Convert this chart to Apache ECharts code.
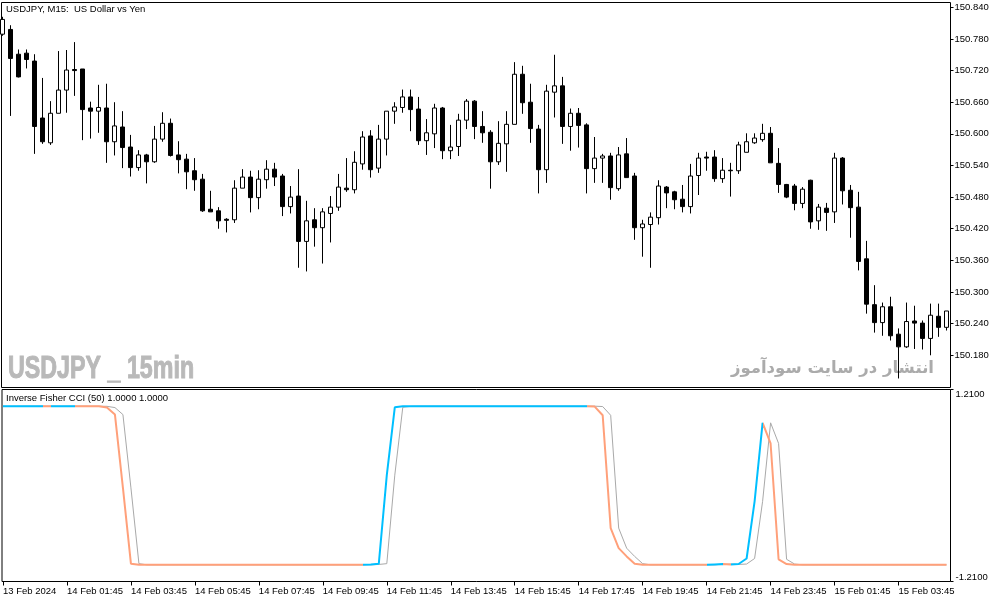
<!DOCTYPE html>
<html><head><meta charset="utf-8">
<script src="https://cdn.jsdelivr.net/npm/echarts@6/dist/echarts.min.js"></script>
<style>html,body{margin:0;padding:0;background:#fff}#c{width:1003px;height:603px}</style>
</head><body><div id="c"></div>
<script>
// ---- data ----
const timeLabels = ['13 Feb 2024','14 Feb 01:45','14 Feb 03:45','14 Feb 05:45','14 Feb 07:45','14 Feb 09:45','14 Feb 11:45','14 Feb 13:45','14 Feb 15:45','14 Feb 17:45','14 Feb 19:45','14 Feb 21:45','14 Feb 23:45','15 Feb 01:45','15 Feb 03:45'];
const labelBars = [0,8,16,24,32,40,48,56,64,72,80,88,96,104,112];
const priceTicks = [150.180,150.240,150.300,150.360,150.420,150.480,150.540,150.600,150.660,150.720,150.780,150.840];
const indTicks = [-1.21, 1.21];

const open = [
150.789,150.798,150.751,150.753,150.738,150.630,150.583,150.639,150.683,150.722,
150.723,150.649,150.643,150.649,150.585,150.613,150.575,150.536,150.560,150.547,
150.590,150.620,150.560,150.552,150.530,150.514,150.457,150.454,150.438,150.437,
150.497,150.518,150.479,150.513,150.533,150.520,150.462,150.482,150.396,150.437,
150.422,150.449,150.461,150.497,150.494,150.543,150.596,150.535,150.590,150.643,
150.650,150.670,150.647,150.587,150.600,150.649,150.568,150.576,150.626,150.662,
150.614,150.603,150.547,150.581,150.618,150.713,150.660,150.609,150.532,150.679,
150.691,150.614,150.639,150.617,150.534,150.554,150.558,150.496,150.562,150.520,
150.422,150.428,150.441,150.499,150.490,150.476,150.462,150.521,150.556,150.556,
150.515,150.531,150.530,150.565,150.583,150.589,150.601,150.544,150.504,150.501,
150.468,150.512,150.435,150.459,150.452,150.554,150.493,150.461,150.363,150.276,
150.242,150.272,150.220,150.196,150.245,150.241,150.212,150.254,150.233];
const high = [
150.822,150.806,150.760,150.760,150.751,150.706,150.662,150.757,150.759,150.774,
150.723,150.661,150.693,150.695,150.660,150.643,150.598,150.569,150.562,150.615,
150.641,150.629,150.586,150.562,150.554,150.524,150.492,150.461,150.440,150.512,
150.533,150.530,150.531,150.550,150.545,150.524,150.501,150.533,150.473,150.459,
150.459,150.482,150.524,150.554,150.567,150.605,150.607,150.617,150.643,150.660,
150.684,150.684,150.670,150.628,150.657,150.651,150.617,150.638,150.666,150.664,
150.643,150.607,150.624,150.643,150.736,150.729,150.695,150.617,150.693,150.750,
150.708,150.648,150.649,150.620,150.594,150.562,150.564,150.575,150.592,150.526,
150.437,150.451,150.512,150.501,150.492,150.503,150.543,150.564,150.566,150.569,
150.554,150.545,150.585,150.601,150.601,150.619,150.613,150.573,150.505,150.505,
150.499,150.513,150.467,150.469,150.564,150.556,150.503,150.490,150.397,150.313,
150.280,150.291,150.231,150.280,150.274,150.246,150.278,150.278,150.264];
const low = [
150.786,150.634,150.707,150.724,150.562,150.581,150.579,150.639,150.640,150.672,
150.588,150.591,150.602,150.545,150.559,150.535,150.519,150.530,150.506,150.545,
150.585,150.557,150.525,150.495,150.492,150.452,150.452,150.420,150.413,150.431,
150.497,150.451,150.457,150.496,150.501,150.444,150.449,150.346,150.339,150.386,
150.354,150.394,150.454,150.490,150.487,150.532,150.517,150.526,150.559,150.619,
150.640,150.605,150.579,150.560,150.573,150.552,150.552,150.558,150.609,150.590,
150.583,150.496,150.541,150.528,150.618,150.638,150.583,150.487,150.507,150.631,
150.581,150.568,150.574,150.487,150.507,150.507,150.475,150.492,150.517,150.399,
150.367,150.346,150.428,150.459,150.457,150.451,150.449,150.484,150.530,150.509,
150.507,150.481,150.524,150.565,150.581,150.585,150.545,150.488,150.478,150.455,
150.459,150.420,150.418,150.416,150.431,150.466,150.403,150.341,150.259,150.223,
150.217,150.208,150.136,150.194,150.192,150.191,150.180,150.215,150.227];
const close = [
150.817,150.743,150.708,150.741,150.614,150.585,150.639,150.683,150.721,150.720,
150.646,150.643,150.650,150.585,150.615,150.574,150.536,150.560,150.547,150.590,
150.620,150.559,150.551,150.528,150.513,150.454,150.452,150.435,150.436,150.497,
150.518,150.479,150.514,150.533,150.518,150.462,150.480,150.396,150.435,150.422,
150.452,150.461,150.499,150.494,150.546,150.594,150.532,150.590,150.643,150.651,
150.670,150.646,150.587,150.602,150.649,150.568,150.575,150.626,150.662,150.614,
150.602,150.547,150.582,150.618,150.713,150.659,150.610,150.532,150.681,150.691,
150.614,150.639,150.616,150.534,150.554,150.558,150.498,150.560,150.517,150.422,
150.429,150.442,150.501,150.488,150.475,150.462,150.520,150.554,150.554,150.515,
150.531,150.530,150.579,150.585,150.592,150.601,150.545,150.504,150.480,150.468,
150.495,150.433,150.461,150.451,150.554,150.492,150.460,150.358,150.277,150.242,
150.272,150.217,150.196,150.244,150.241,150.212,150.256,150.233,150.264];

// Inverse Fisher CCI main line and its signal line
const ifcci = [
0.998,0.999,1.000,1.000,1.000,1.000,0.999,1.000,1.000,1.000,
0.999,0.999,0.998,0.982,0.894,-0.030,-0.985,-1.000,-1.000,-1.000,
-1.000,-1.000,-1.000,-1.000,-1.000,-1.000,-1.000,-1.000,-1.000,-1.000,
-1.000,-1.000,-1.000,-1.000,-1.000,-1.000,-1.000,-1.000,-1.000,-1.000,
-1.000,-1.000,-1.000,-1.000,-1.000,-1.000,-0.995,-0.985,0.130,0.986,
0.998,1.000,1.000,1.000,1.000,1.000,1.000,1.000,1.000,1.000,
1.000,1.000,1.000,1.000,1.000,1.000,1.000,1.000,1.000,1.000,
1.000,1.000,1.000,1.000,0.995,0.885,-0.537,-0.790,-0.894,-0.985,
-1.000,-1.000,-1.000,-1.000,-1.000,-1.000,-1.000,-1.000,-1.000,-0.995,
-0.990,-0.995,-0.990,-0.920,-0.200,0.790,0.530,-0.930,-0.990,-1.000,
-1.000,-1.000,-1.000,-1.000,-1.000,-1.000,-1.000,-1.000,-1.000,-1.000,
-1.000,-1.000,-1.000,-1.000,-1.000,-1.000,-1.000,-1.000,-1.000];
const ifcciSignal = [
0.998,0.998,0.999,1.000,1.000,1.000,1.000,0.999,1.000,1.000,
1.000,0.999,0.999,0.998,0.982,0.894,-0.030,-0.985,-1.000,-1.000,
-1.000,-1.000,-1.000,-1.000,-1.000,-1.000,-1.000,-1.000,-1.000,-1.000,
-1.000,-1.000,-1.000,-1.000,-1.000,-1.000,-1.000,-1.000,-1.000,-1.000,
-1.000,-1.000,-1.000,-1.000,-1.000,-1.000,-1.000,-0.995,-0.985,0.130,
0.986,0.998,1.000,1.000,1.000,1.000,1.000,1.000,1.000,1.000,
1.000,1.000,1.000,1.000,1.000,1.000,1.000,1.000,1.000,1.000,
1.000,1.000,1.000,1.000,1.000,0.995,0.885,-0.537,-0.790,-0.894,
-0.985,-1.000,-1.000,-1.000,-1.000,-1.000,-1.000,-1.000,-1.000,-1.000,
-0.995,-0.990,-0.995,-0.990,-0.920,-0.200,0.790,0.530,-0.930,-0.990,
-1.000,-1.000,-1.000,-1.000,-1.000,-1.000,-1.000,-1.000,-1.000,-1.000,
-1.000,-1.000,-1.000,-1.000,-1.000,-1.000,-1.000,-1.000,-1.000];

// ---- build ----
const UP = '#00BFFF', DN = '#FFA07A';
const ohlc = open.map((o, k) => [k, o, close[k], low[k], high[k]]);
const pieces = [];
let prev = UP;
for (let k = 0; k < ifcci.length - 1; k++) {
  const c = ifcci[k + 1] > ifcci[k] ? UP : (ifcci[k + 1] < ifcci[k] ? DN : prev);
  prev = c;
  const last = pieces[pieces.length - 1];
  if (last && last.color === c) last.lte = k + 1;
  else pieces.push({ gte: k, lte: k + 1, color: c });
}
const FONT = 'Liberation Sans';
const XMIN = -0.125, XMAX = 118.5;

const chart = echarts.init(document.getElementById('c'), null, { renderer: 'canvas' });
chart.setOption({
  animation: false,
  backgroundColor: '#ffffff',
  textStyle: { fontFamily: FONT },
  grid: [
    { left: 1.5, top: 2.5, width: 949, height: 385, show: true, borderColor: '#000', borderWidth: 1, backgroundColor: '#fff' },
    { left: 1.5, top: 389.5, width: 949, height: 192, show: true, borderColor: '#000', borderWidth: 1, backgroundColor: '#fff' }
  ],
  xAxis: [
    { type: 'value', gridIndex: 0, min: XMIN, max: XMAX, position: 'bottom', axisLine: { show: false, onZero: false }, axisTick: { show: false }, axisLabel: { show: false }, splitLine: { show: false } },
    { type: 'value', gridIndex: 1, min: XMIN, max: XMAX, position: 'bottom', axisLine: { show: false, onZero: false }, splitLine: { show: false },
      axisTick: { show: true, customValues: labelBars, length: 4, lineStyle: { color: '#000', width: 1 } },
      axisLabel: { customValues: labelBars, formatter: v => timeLabels[labelBars.indexOf(v)], align: 'left', margin: 5, color: '#000', fontSize: 9.5, fontFamily: FONT } }
  ],
  yAxis: [
    { type: 'value', gridIndex: 0, position: 'right', min: 150.1189, max: 150.8491, splitLine: { show: false }, axisLine: { show: false, onZero: false },
      axisTick: { show: true, customValues: priceTicks, length: 3, lineStyle: { color: '#000' } },
      axisLabel: { customValues: priceTicks, formatter: v => v.toFixed(3), margin: 4, color: '#000', fontSize: 9.5, fontFamily: FONT } },
    { type: 'value', gridIndex: 1, position: 'right', min: -1.21, max: 1.21, splitLine: { show: false }, axisLine: { show: false, onZero: false },
      axisTick: { show: true, customValues: indTicks, length: 3, lineStyle: { color: '#000' } },
      axisLabel: { customValues: indTicks, margin: 5, color: '#000', fontSize: 9.5, fontFamily: FONT,
        formatter: v => v > 0 ? '{t|' + v.toFixed(4) + '}' : '{b|' + v.toFixed(4) + '}',
        rich: { t: { padding: [9, 0, 0, 0], fontSize: 9.5, fontFamily: FONT, color: '#000' }, b: { padding: [0, 0, 9, 0], fontSize: 9.5, fontFamily: FONT, color: '#000' } } } }
  ],
  visualMap: [{ type: 'piecewise', show: false, dimension: 0, seriesIndex: 2, pieces: pieces, outOfRange: { color: DN } }],
  series: [
    { type: 'candlestick', xAxisIndex: 0, yAxisIndex: 0, data: ohlc, encode: { x: 0, y: [1, 2, 3, 4] }, barWidth: 4, silent: true,
      itemStyle: { color: '#ffffff', color0: '#000000', borderColor: '#000000', borderColor0: '#000000', borderColorDoji: '#000000', borderWidth: 1 } },
    { type: 'line', xAxisIndex: 1, yAxisIndex: 1, data: ifcciSignal.map((v, k) => [k, v]), showSymbol: false, silent: true, z: 2,
      lineStyle: { width: 1, color: '#A9A9A9' } },
    { type: 'line', xAxisIndex: 1, yAxisIndex: 1, data: ifcci.map((v, k) => [k, v]), showSymbol: false, silent: true, z: 3,
      lineStyle: { width: 2 } }
  ],
  graphic: [
    { type: 'text', x: 6, y: 4, z: 10, style: { text: 'USDJPY, M15:  US Dollar vs Yen', fontSize: 9.5, fontFamily: FONT, fill: '#000', verticalAlign: 'top', textVerticalAlign: 'top' } },
    { type: 'text', x: 6, y: 393, z: 10, style: { text: 'Inverse Fisher CCI (50) 1.0000 1.0000', fontSize: 9.5, fontFamily: FONT, fill: '#000', verticalAlign: 'top', textVerticalAlign: 'top' } },
    { type: 'text', x: 8, y: 369, z: 1, scaleX: 0.75, style: { text: 'USDJPY _ 15min', font: 'bold 31px "Liberation Sans", sans-serif', fill: '#B9B9B9', stroke: '#B9B9B9', lineWidth: 1, verticalAlign: 'middle', textVerticalAlign: 'middle' } },
    { type: 'text', x: 934, y: 369, z: 1, style: { text: 'انتشار در سایت سودآموز', font: 'bold 16.5px "DejaVu Sans"', fill: '#ABABAB', align: 'right', textAlign: 'right', verticalAlign: 'middle', textVerticalAlign: 'middle' } }
  ]
});
</script></body></html>
